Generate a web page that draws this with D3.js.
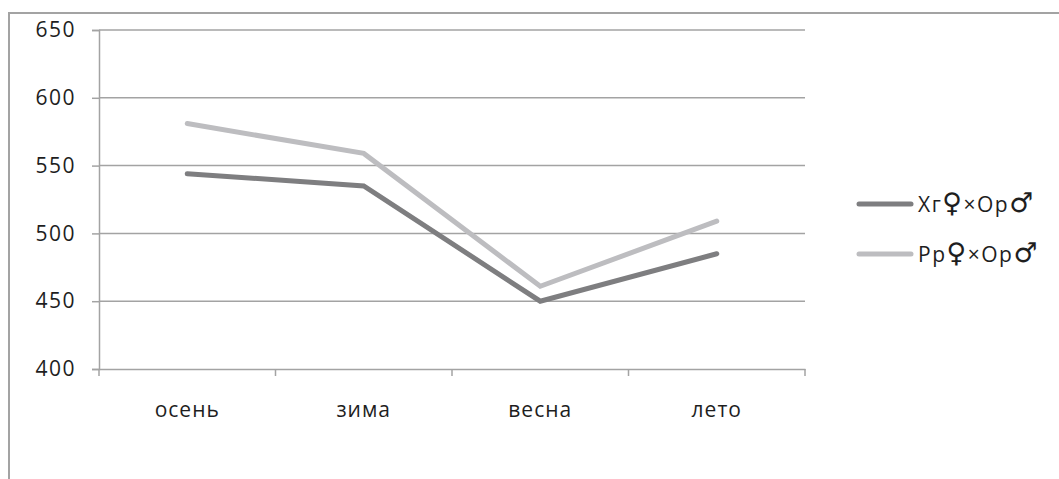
<!DOCTYPE html>
<html>
<head>
<meta charset="utf-8">
<script src="https://cdn.jsdelivr.net/npm/d3@7"></script>
<style>
  body { margin: 0; background: #fff; }
  text { font-family: "Open Sans", "Noto Sans", sans-serif; fill: #1e1e1e; }
</style>
</head>
<body>
<div id="chart"></div>
<script>
const seasons = ["осень", "зима", "весна", "лето"];
// legend labels split into plain text and sex symbols
const seriesParts = [["Хг", "♀", "×Ор", "♂"], ["Рр", "♀", "×Ор", "♂"]];
const xgValues = [544, 535, 450, 485];
const rrValues = [581, 559, 461, 509];
const yTicks = [400, 450, 500, 550, 600, 650];
const seriesColors = ["#7e7e80", "#bdbdc0"];

const W = 1059, H = 479;
const margin = { top: 30, left: 99, right: 254, bottom: 110 };
const width = W - margin.left - margin.right,
    height = H - margin.top - margin.bottom;

const svg = d3.select("#chart").append("svg")
    .attr("width", W)
    .attr("height", H);

// outer frame (only top and left edges are in view)
svg.append("path")
    .attr("d", "M9,479 V13 H1059")
    .attr("fill", "none")
    .attr("stroke", "#a3a3a3")
    .attr("stroke-width", 2);

const g = svg.append("g")
    .attr("transform", "translate(" + margin.left + "," + margin.top + ")");

const y = d3.scaleLinear().domain([400, 650]).range([height, 0]);
const xBand = d3.scaleBand().domain(seasons).range([0, width]);
const x = d => xBand(d) + xBand.bandwidth() / 2;

// gridlines
g.append("g").selectAll("line")
    .data(yTicks.slice(1))
    .enter().append("line")
    .attr("x1", 0).attr("x2", width)
    .attr("y1", d => y(d)).attr("y2", d => y(d))
    .attr("stroke", "#a3a3a3")
    .attr("stroke-width", 1.5);

// y axis
const yAxis = g.append("g")
    .call(d3.axisLeft(y).tickValues(yTicks).tickSize(7).tickPadding(16));
yAxis.select(".domain").attr("stroke", "#a3a3a3").attr("stroke-width", 1.5);
yAxis.selectAll(".tick line").attr("stroke", "#a3a3a3").attr("stroke-width", 1.5);
yAxis.selectAll("text").attr("font-size", "21px").attr("fill", "#1e1e1e")
    .attr("font-family", "Open Sans").attr("letter-spacing", "1.5px");

// x axis
const xAxis = g.append("g")
    .attr("transform", "translate(0," + height + ")")
    .call(d3.axisBottom(xBand).tickSize(0).tickPadding(33));
xAxis.select(".domain").attr("stroke", "#a3a3a3").attr("stroke-width", 1.5);
xAxis.selectAll("text").attr("font-size", "21px").attr("fill", "#1e1e1e")
    .attr("font-family", "Open Sans").attr("letter-spacing", "1px");
g.append("g").selectAll("line")
    .data(d3.range(seasons.length + 1))
    .enter().append("line")
    .attr("x1", i => i * xBand.step()).attr("x2", i => i * xBand.step())
    .attr("y1", height).attr("y2", height + 7)
    .attr("stroke", "#a3a3a3")
    .attr("stroke-width", 1.5);

// lines
const line = d3.line()
    .x((d, i) => x(seasons[i]))
    .y(d => y(d));

[xgValues, rrValues].forEach((vals, i) => {
    g.append("path")
        .datum(vals)
        .attr("fill", "none")
        .attr("stroke", seriesColors[i])
        .attr("stroke-width", 5)
        .attr("stroke-linejoin", "miter")
        .attr("stroke-linecap", "round")
        .attr("d", line);
});

// legend
const legend = svg.append("g").attr("transform", "translate(859,204)");
seriesParts.forEach((parts, i) => {
    const row = legend.append("g").attr("transform", "translate(0," + i * 50 + ")");
    row.append("line")
        .attr("x1", 0).attr("x2", 52)
        .attr("stroke", seriesColors[i])
        .attr("stroke-width", 5)
        .attr("stroke-linecap", "round");
    const t = row.append("text")
        .attr("x", 59).attr("y", 8)
        .attr("font-size", "21px")
        .attr("letter-spacing", "1.5px");
    parts.forEach((p, k) => {
        const isSym = k % 2 === 1;
        t.append("tspan")
            .attr("font-family", isSym ? "DejaVu Sans" : "Open Sans")
            .attr("font-size", isSym ? "27px" : "21px")
            .attr("font-weight", isSym ? "bold" : "normal")
            .text(p);
    });
});
</script>
</body>
</html>
